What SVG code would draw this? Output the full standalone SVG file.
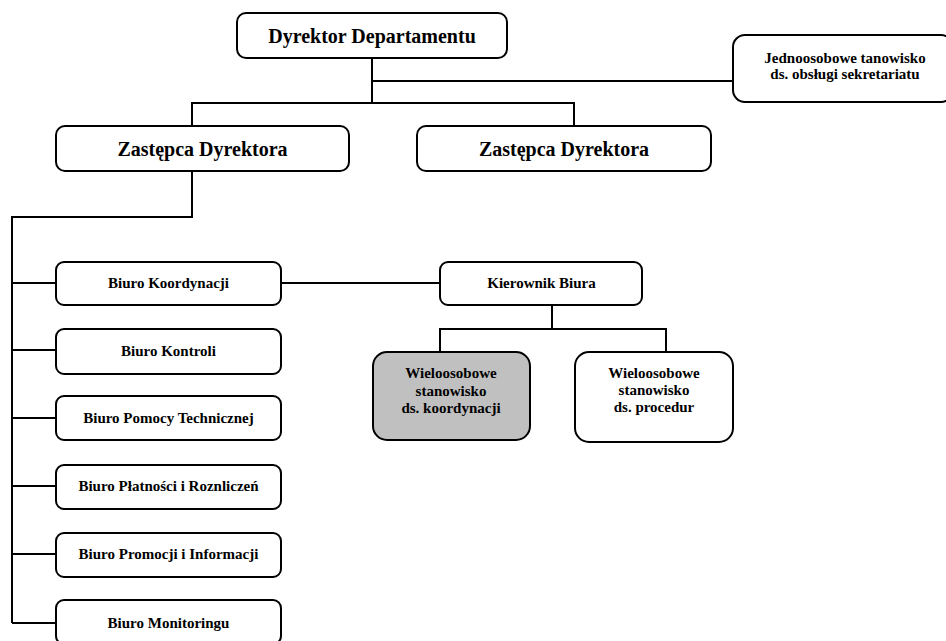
<svg xmlns="http://www.w3.org/2000/svg" width="946" height="641" viewBox="0 0 946 641">
<style>
.box{fill:#fff;stroke:#000;stroke-width:2}
.gray{fill:#c0c0c0}
.t{font-family:"Liberation Serif","Times New Roman",serif;font-weight:bold;text-anchor:middle;fill:#000}
.big{font-size:20px}
.sm{font-size:15px}
.con{fill:none;stroke:#000;stroke-width:2}
</style>
<rect width="946" height="641" fill="#fff"/>
<g id="connectors" class="con">
<path d="M372 58V103"/>
<path d="M372 81H733"/>
<path d="M192 126V103H574V126"/>
<path d="M192 171V217H12V623"/>
<path d="M12 283H56M12 350H56M12 418H56M12 486H56M12 554H56M12 623H56"/>
<path d="M281 283H440"/>
<path d="M552 305V329"/>
<path d="M440 352V329H666V352"/>
</g>
<g id="dyrektor"><rect class="box" x="237" y="13" width="270" height="45" rx="9"/><text class="t big" x="372" y="43">Dyrektor Departamentu</text></g>
<g id="sekretariat"><rect class="box" x="733" y="35" width="220" height="67" rx="12"/><text class="t sm" x="845" y="63">Jednoosobowe tanowisko</text><text class="t sm" x="845" y="79">ds. obsługi sekretariatu</text></g>
<g id="zastepca1"><rect class="box" x="56" y="126" width="293" height="45" rx="9"/><text class="t big" x="202.5" y="156">Zastępca Dyrektora</text></g>
<g id="zastepca2"><rect class="box" x="417" y="126" width="294" height="45" rx="9"/><text class="t big" x="564" y="156">Zastępca Dyrektora</text></g>
<g id="koordynacji"><rect class="box" x="56" y="262" width="225" height="43" rx="8"/><text class="t sm" x="168.5" y="288">Biuro Koordynacji</text></g>
<g id="kontroli"><rect class="box" x="56" y="329" width="225" height="45" rx="8"/><text class="t sm" x="168.5" y="356">Biuro Kontroli</text></g>
<g id="pomocy"><rect class="box" x="56" y="396" width="225" height="44" rx="8"/><text class="t sm" x="168.5" y="423">Biuro Pomocy Technicznej</text></g>
<g id="platnosci"><rect class="box" x="56" y="465" width="225" height="44" rx="8"/><text class="t sm" x="168.5" y="491">Biuro Płatności i Roznliczeń</text></g>
<g id="promocji"><rect class="box" x="56" y="533" width="225" height="44" rx="8"/><text class="t sm" x="168.5" y="559">Biuro Promocji i Informacji</text></g>
<g id="monitoringu"><rect class="box" x="56" y="600" width="225" height="44" rx="8"/><text class="t sm" x="168.5" y="628">Biuro Monitoringu</text></g>
<g id="kierownik"><rect class="box" x="440" y="262" width="202" height="43" rx="8"/><text class="t sm" x="541.5" y="288">Kierownik Biura</text></g>
<g id="koord-stan"><rect class="box gray" x="373" y="352" width="157" height="88" rx="14"/><text class="t sm" x="451" y="378">Wieloosobowe</text><text class="t sm" x="451" y="396">stanowisko</text><text class="t sm" x="451" y="413">ds. koordynacji</text></g>
<g id="proc-stan"><rect class="box" x="575" y="352" width="158" height="90" rx="14"/><text class="t sm" x="654" y="378">Wieloosobowe</text><text class="t sm" x="654" y="395">stanowisko</text><text class="t sm" x="654" y="412">ds. procedur</text></g>
</svg>
